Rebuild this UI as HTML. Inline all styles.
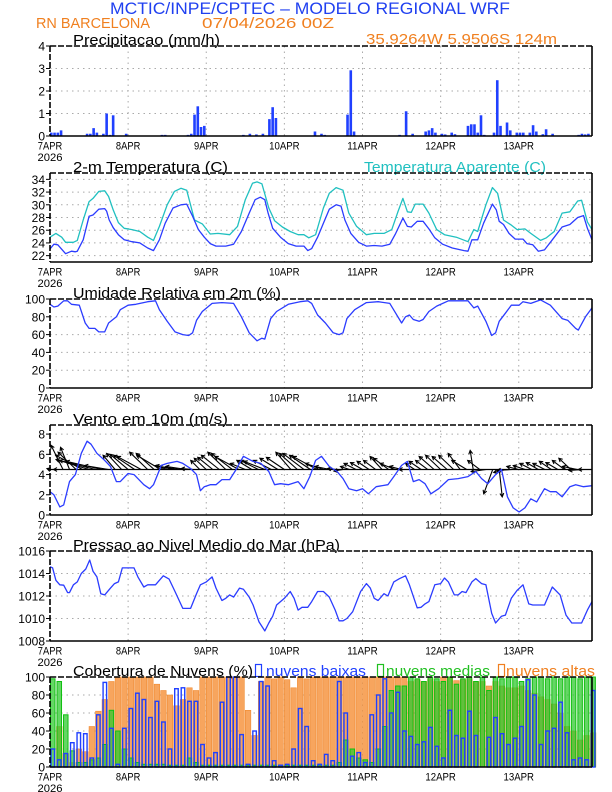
<!DOCTYPE html>
<html><head><meta charset="utf-8"><style>
html,body{margin:0;padding:0;background:#fff;}
svg{display:block;font-family:"Liberation Sans",sans-serif;}
</style></head><body>
<svg id="chart" width="612" height="792" viewBox="0 0 612 792" xmlns="http://www.w3.org/2000/svg">
<text x="110" y="14" font-size="17" fill="#2040f0" textLength="400" lengthAdjust="spacingAndGlyphs">MCTIC/INPE/CPTEC – MODELO REGIONAL WRF</text>
<text x="36" y="28" font-size="15" fill="#f08020" textLength="114" lengthAdjust="spacingAndGlyphs">RN BARCELONA</text>
<text x="202" y="28" font-size="15" fill="#f08020" textLength="132" lengthAdjust="spacingAndGlyphs">07/04/2026 00Z</text>
<text x="366" y="44" font-size="15" fill="#f08020" textLength="191" lengthAdjust="spacingAndGlyphs">35.9264W 5.9506S 124m</text>
<text x="73" y="45" font-size="15" fill="#000" textLength="147" lengthAdjust="spacingAndGlyphs">Precipitacao (mm/h)</text>
<text x="73" y="172" font-size="15" fill="#000" textLength="155" lengthAdjust="spacingAndGlyphs">2-m Temperatura (C)</text>
<text x="364" y="172" font-size="15" fill="#20c0c0" textLength="182" lengthAdjust="spacingAndGlyphs">Temperatura Aparente (C)</text>
<text x="73" y="298" font-size="15" fill="#000" textLength="208" lengthAdjust="spacingAndGlyphs">Umidade Relativa em 2m (%)</text>
<text x="73" y="424" font-size="15" fill="#000" textLength="155" lengthAdjust="spacingAndGlyphs">Vento em 10m (m/s)</text>
<text x="73" y="550" font-size="15" fill="#000" textLength="267" lengthAdjust="spacingAndGlyphs">Pressao ao Nivel Medio do Mar (hPa)</text>
<text x="73" y="676" font-size="15" fill="#000" textLength="180" lengthAdjust="spacingAndGlyphs">Cobertura de Nuvens (%)</text>
<rect x="255.5" y="664.5" width="6" height="12" fill="none" stroke="#2040ff" stroke-width="1.2"/>
<text x="266" y="676" font-size="15" fill="#2040ff" textLength="100" lengthAdjust="spacingAndGlyphs">nuvens baixas</text>
<rect x="377.5" y="664.5" width="6" height="12" fill="none" stroke="#20c020" stroke-width="1.2"/>
<text x="386" y="676" font-size="15" fill="#20c020" textLength="104" lengthAdjust="spacingAndGlyphs">nuvens medias</text>
<rect x="498.5" y="664.5" width="6" height="12" fill="none" stroke="#f08020" stroke-width="1.2"/>
<text x="506" y="676" font-size="15" fill="#f08020" textLength="89" lengthAdjust="spacingAndGlyphs">nuvens altas</text>
</svg>
<script>
// ---------- data ----------
const dayLabels=["7APR","8APR","9APR","10APR","11APR","12APR","13APR"];
const precipHours=[0,1,2,3,11,12,13,14,16,17,18,19,23,34,35,42,43,44,45,46,47,59,61,63,65,67,68,69,81,83,84,91,92,93,107,109,111,115,116,117,118,120,121,123,124,128,129,130,131,132,133,136,137,138,140,141,143,144,145,147,148,149,151,152,154,162,163,164,165];
const precipVals=[0.15,0.15,0.15,0.25,0.1,0.1,0.35,0.15,0.1,1.0,0.05,0.92,0.1,0.05,0.05,0.05,0.1,0.95,1.32,0.4,0.45,0.05,0.1,0.07,0.1,0.75,1.28,0.8,0.2,0.1,0.05,0.95,2.92,0.2,0.05,1.1,0.1,0.2,0.25,0.35,0.15,0.1,0.07,0.15,0.08,0.45,0.52,0.52,0.15,0.92,0.05,0.15,2.48,0.45,0.6,0.25,0.15,0.15,0.15,0.15,0.48,0.2,0.08,0.3,0.1,0.05,0.1,0.07,0.1];
const tempHours=[0,1.2,2.4,4.8,6.6,7.8,8.4,10.2,12,13.2,15,16.8,17.4,18.2,19.4,21,22.8,25.2,27.6,30,31.8,33.6,35.4,37.8,40.2,42,43.8,45.6,47.4,49.2,51,54,56.4,58.8,61.2,63,64.6,66,67,68.4,70.8,73.2,75.6,78,79.2,80.4,82.2,84,85.8,87.9,89.4,90.6,92.4,94.8,97.2,99.6,102,104.4,106.2,108.4,109.8,111,112.8,114.6,116.4,118.2,120.6,123.6,127.2,128.4,129.6,131.4,133.2,135.9,137.1,138,139.3,141,142.9,145.3,146.5,148.3,150,151.9,154.3,157.3,159.7,162.1,163.9,165.1,166.5];
const tempVals=[23.05,23.8,23.7,22.3,22.7,22.6,22.7,24.5,28.2,28.4,29.3,29.4,29.0,27.6,26.4,25.3,24.5,24.2,24.0,23.2,22.8,24.5,27.1,29.5,30.0,30.1,28.2,26.1,24.9,23.9,23.5,23.5,23.8,25.8,28.7,30.8,31.2,30.8,28.7,26.3,24.9,23.9,23.5,23.5,22.8,23.1,24.9,27.1,29.3,30.0,29.8,27.6,25.5,24.1,23.5,23.6,23.5,23.8,25.5,27.9,26.6,26.5,27.4,27.4,26.2,24.8,23.8,23.2,22.8,22.7,24.5,24.5,27.1,30.1,29.2,27.4,26.9,25.5,24.6,24.6,23.9,23.7,22.7,22.9,24.5,26.5,26.9,28.0,28.3,26.3,24.5];
const appHours=[0,1.8,3.6,4.8,7.2,8.4,10.2,12,13.2,15,16.8,18,19.4,21,22.8,25.2,27.6,30,31.8,33.6,36,38.2,40.2,42,44.4,46.8,49.2,51.6,55.2,57.6,60,62.2,63.6,65.1,67.2,69,71.4,73.8,76.2,78,79.5,81.6,84,85.8,87.9,90,91.8,94.2,97.2,99.6,102.6,105,106.8,108.4,109.8,111,112.2,114.6,116.4,118.8,121.2,124.8,128.4,130.2,131.4,133.9,135.9,137.5,139.3,141.7,143.5,145.9,147.7,150.7,152.5,154.9,157.3,159.7,162.1,163.3,165.1,166.5];
const appVals=[24.9,25.5,24.9,24.1,24.1,24.4,27.6,30.5,31.0,32.1,32.2,31.3,29.2,27.2,26.3,26.1,25.8,24.9,24.4,26.6,30.0,32.1,32.6,32.3,27.6,27.0,25.4,25.5,25.3,26.6,30.8,33.4,33.6,33.3,29.5,27.5,26.5,25.8,25.3,25.3,24.8,25.3,29.5,31.8,32.7,32.3,28.7,26.6,25.3,25.5,25.5,26.1,28.8,31.0,28.9,28.8,30.1,30.1,28.7,26.1,25.3,24.9,24.2,26.1,25.8,30.0,32.7,31.8,27.6,26.8,26.1,26.2,25.5,24.4,24.8,25.8,28.7,28.9,30.6,30.7,27.3,26.1];
const rhHours=[0,1.2,2.4,4.2,5.4,6.6,9,10.8,12,13.8,15,16.8,18,20.4,21.6,24,26.4,30,32.4,33.6,36,38.4,40.8,42.6,43.8,45,46.8,49.8,52.8,56.4,58.8,61.2,63.6,65.1,66,67.8,69.6,73.2,76.8,79.2,80.4,82.2,84.6,87,88.8,90,91.2,93.6,97.2,100.8,104.4,106.2,108,109.2,110.4,111.6,113.4,114.6,116.4,118.8,122.4,126,128.4,130.2,131.4,133.9,135.7,136.9,138,139.9,141.7,144.1,145.3,147.7,150.7,153.7,157.3,159.1,161.5,162.3,164.5,166.5];
const rhVals=[94,91,92,98,98,94,93,73,67,67,63,63,73,80,88,93,94,97,98,88,75,63,60,59,62,76,86,95,96,95,80,62,53,56,55,78,86,94,97,98,95,82,73,62,60,62,78,88,96,97,95,84,73,80,82,77,75,77,86,92,98,98,98,90,92,75,59,62,75,84,93,93,97,95,99,93,78,76,67,65,80,90];
const windHours=[0,1.2,3,4.2,6,7.8,9.6,11.4,12.6,14.4,16.8,18.6,20.4,21.6,24,25.8,28.8,30.6,31.8,34.2,36,39,40.8,43.2,45,46.2,47.4,49.2,51,52.8,55.2,57,59.4,62.4,64.8,67.2,69,70.8,73.2,76.2,78,79.8,81.6,83.4,85.8,88.2,90,91.8,94.2,96,97.8,100.2,103.8,105.6,108,109.8,111.6,113.4,115.2,117,119.4,122.4,125.4,128.4,130.8,132.6,134.5,136.9,138.7,140.5,142.3,144.1,145.9,147.7,149.5,151.9,153.7,155.5,157.3,159.7,161.5,163.9,166.5];
const windSpeed=[2.3,2.0,0.8,1.0,3.3,4.0,6.1,7.3,7.0,6.1,5.4,4.8,3.3,3.3,4.1,4.0,3.0,2.6,3.0,4.9,5.1,5.3,5.1,4.6,4.0,2.4,2.8,3.0,3.0,3.5,3.5,4.4,5.8,5.3,5.1,4.3,3.0,3.1,3.0,3.3,2.6,3.8,5.4,5.8,4.8,4.3,3.6,2.6,2.4,2.6,2.1,2.8,3.0,3.8,4.9,5.3,3.3,3.5,3.1,2.1,2.6,3.5,3.6,3.8,4.3,3.6,3.1,4.0,4.5,1.8,0.7,0.3,0.7,1.6,1.3,2.6,2.3,2.3,1.8,2.8,3.0,2.8,2.9];
const vecHours=[0,2,4,6,8,10,12,14,16,18,20,22,24,26,28,30,32,34,36,38,40,42,44,46,48,50,52,54,56,58,60,62,64,66,68,70,72,74,76,78,80,82,84,86,88,90,92,94,96,98,100,102,104,106,108,110,112,114,116,118,120,122,124,126,128,130,132,134,136,138,140,142,144,146,148,150,152,154,156,158,160,162,164,166];
const vecU=[-1,-1,-4,-3,-6,-9,-11,-12,-12,-8,-4,-5,-6,-7,-8,-6,-6,-8,-4,-6,-7,-7,-4,-3,-4,-5,-6,-6,-7,-8,-5,-5,-6,-7,-6,-6,-6,-5,-6,-7,-7,-8,-6,-5,-3,-3,-3,-4,-4,-4,-4,-4,-5,-5,-4,-3,-3,-4,-4,-5,-5,-5,-5,-4,-5,-1,-4,-5,-3,1,-4,-5,-4,-4,-4,-4,-4,-4,-4,-4,-4,-5,-5,-4];
const vecV=[0.3,0,8,7.3,5.7,4.7,3.3,3,2.7,1.3,4.7,5.3,5,4.7,4.3,5.7,5.3,4.7,1.3,1.3,1,1,0.3,3,3.7,4,4.7,5.7,5.3,4.3,2,3,3,2.7,3,3.7,4,5.7,5.3,5.3,4.7,4.3,2,1,0.3,-0.5,1,2,2.3,2.7,3,4.3,3.7,2,1,0,2,2.7,3,4.3,4.7,4.3,4.7,5.3,3,6.3,3,-0.7,-8,-9,-1,-0.3,1,1.3,2,2.3,2,2.7,2.3,3,3.7,1,-0.3,0];
const presHours=[0,0.8,1.8,3,4.2,5.4,6,7.2,8.4,9.6,11,12.2,13.2,14.4,15.6,16.8,18.6,19.8,21,22.2,24.6,25.8,27,28.8,30,32.4,34.8,36.6,38.4,40.8,43.2,45,46.2,48,49.8,51,52.8,54,55.2,56.4,58.2,59.4,61.2,62.4,64.2,66,67.2,68.4,69.6,72,73.8,75,76.2,77.4,79.2,80.4,82.2,84,85.8,87.6,88.8,90,91.2,93,95.4,97.2,98.4,99.6,100.8,102.6,103.8,105.6,107.4,109.2,110.4,112.8,114,115.2,116.4,118.2,120,121.2,122.4,124.2,125.4,126.6,127.8,129.6,130.8,132.6,133.9,135.7,136.9,138.7,139.9,141.7,143.5,145.3,147.1,148.3,150.7,151.9,154.3,156.7,158.5,160.3,163.3,165.1,166.5];
const presVals=[1014.6,1014.5,1013.4,1013.0,1012.96,1012.3,1012.3,1013.0,1013.25,1014.0,1014.4,1015.2,1014.2,1013.7,1012.2,1012.1,1012.7,1013.1,1013.25,1014.5,1014.5,1014.5,1013.7,1012.8,1013.0,1013.0,1013.8,1013.5,1012.4,1010.9,1010.9,1012.2,1013.0,1013.25,1013.7,1012.7,1011.6,1011.8,1012.1,1011.9,1012.7,1012.6,1011.9,1011.2,1009.7,1008.9,1009.6,1010.2,1011.2,1011.8,1012.4,1011.8,1010.75,1011.0,1011.0,1011.5,1012.4,1012.4,1011.9,1010.75,1009.8,1009.8,1010.0,1010.6,1012.4,1013.1,1012.7,1011.8,1011.6,1012.2,1012.0,1013.25,1013.55,1013.8,1013.0,1010.95,1011.0,1011.3,1011.5,1013.0,1013.1,1013.6,1013.25,1012.1,1012.1,1012.4,1012.3,1013.25,1013.55,1013.1,1013.0,1010.45,1009.6,1010.2,1010.3,1011.8,1012.5,1013.0,1011.3,1011.2,1011.2,1011.2,1012.8,1012.1,1010.3,1009.6,1009.6,1010.75,1011.5];
const cloudHours=[0,2,4,6,8,10,12,14,16,18,20,22,24,26,28,30,32,34,36,38,40,42,44,46,48,50,52,54,56,58,60,62,64,66,68,70,72,74,76,78,80,82,84,86,88,90,92,94,96,98,100,102,104,106,108,110,112,114,116,118,120,122,124,126,128,130,132,134,136,138,140,142,144,146,148,150,152,154,156,158,160,162,164,166];
const cloudHigh=[0,45,15,5,20,17,45,62,75,95,100,100,100,100,100,100,92,85,80,68,75,88,85,100,100,100,100,100,100,100,63,35,95,100,98,100,97,88,100,98,100,100,100,100,100,100,100,100,100,100,100,100,100,100,100,95,97,95,98,95,100,100,96,97,98,95,95,90,95,90,88,88,90,85,82,78,75,70,60,45,40,30,35,38];
const cloudMid=[98,95,58,18,5,5,8,10,25,63,40,20,10,5,3,3,3,3,2,2,2,10,5,2,2,2,2,2,2,2,2,2,2,2,2,2,2,2,2,2,2,2,2,2,5,30,20,10,8,5,20,45,85,90,90,100,98,95,100,98,95,100,92,98,100,95,100,85,100,98,100,100,95,98,100,100,98,100,98,100,100,98,100,100];
const cloudLow=[20,8,15,27,38,37,10,58,94,43,3,43,65,82,75,55,73,50,20,87,88,73,73,25,10,16,72,100,100,36,3,40,95,90,7,2,3,20,65,45,7,3,14,7,95,60,12,16,5,58,80,98,60,83,40,34,25,28,44,23,10,63,35,32,62,35,0,33,55,37,25,32,45,97,80,25,40,43,72,38,8,10,8,85];

// ---------- helpers ----------
const NS='http://www.w3.org/2000/svg';
const svg=document.getElementById('chart');
const X0=50,X1=592,HMAX=166.5;
function xs(h){return X0+h*(X1-X0)/HMAX;}
function mk(tag,attrs,parent){const e=document.createElementNS(NS,tag);for(const k in attrs)e.setAttribute(k,attrs[k]);(parent||svg).appendChild(e);return e;}
function yScale(p){return v=>p.bot-(v-p.min)*(p.bot-p.top)/(p.max-p.min);}

const panels=[
 {key:'precip',top:46,bot:136,min:0,max:4,ticks:[0,1,2,3,4]},
 {key:'temp',top:173,bot:262,min:21,max:35,ticks:[22,24,26,28,30,32,34]},
 {key:'humidity',top:299,bot:388,min:0,max:100,ticks:[0,20,40,60,80,100]},
 {key:'wind',top:425,bot:515,min:0,max:8.9,ticks:[0,2,4,6,8]},
 {key:'pressure',top:551,bot:641,min:1008,max:1016,ticks:[1008,1010,1012,1014,1016]},
 {key:'cloud',top:677,bot:767,min:0,max:100,ticks:[0,20,40,60,80,100]}
];

function drawAxes(p){
  const y=yScale(p);
  const g=mk('g',{});
  
  
  p.ticks.forEach(t=>{
    const gl=mk('line',{x1:X0,x2:X1,y1:y(t),y2:y(t),stroke:'#aaa','stroke-width':1,'stroke-dasharray':'1.5,4'},g);
    
    
    const tk=mk('line',{x1:X0-4,x2:X0,y1:y(t),y2:y(t),stroke:'#000','stroke-width':1},g);
    
    
    const lb=mk('text',{x:X0-5,y:y(t)+4.5,'font-size':12,'text-anchor':'end',fill:'#000'},g);
    lb.textContent=String(t);
    
    
  });
  dayLabels.forEach((d,i)=>{
    const xx=xs(i*24);
    if(i>0){
      const vl=mk('line',{x1:xx,x2:xx,y1:p.top,y2:p.bot,stroke:'#aaa','stroke-width':1,'stroke-dasharray':'1.5,4'},g);
      
      
    }
    const lb=mk('text',{x:xx,y:p.bot+13.5,'font-size':11,'text-anchor':'middle',fill:'#000',textLength:d.length*6.1,lengthAdjust:'spacingAndGlyphs'},g);
    lb.textContent=d;
    
    
  });
  const yr=mk('text',{x:X0,y:p.bot+25,'font-size':11,'text-anchor':'middle',fill:'#000',textLength:25,lengthAdjust:'spacingAndGlyphs'},g);
  yr.textContent='2026';
  
  
}
function drawFrame(p){
  const g=mk('g',{fill:'none',stroke:'#000','stroke-width':1.6});
  
  
  mk('line',{x1:X0,x2:X1,y1:p.top,y2:p.top,'stroke-dasharray':'6,2'},g);
  mk('line',{x1:X0,x2:X0,y1:p.top,y2:p.bot,'stroke-dasharray':'6,2'},g);
  mk('line',{x1:X1,x2:X1,y1:p.top,y2:p.bot},g);
  mk('line',{x1:X0,x2:X1,y1:p.bot,y2:p.bot},g);
}
function line(p,hours,vals,color,name){
  const y=yScale(p);
  const d=hours.map((h,i)=>(i?'L':'M')+xs(h).toFixed(1)+','+y(vals[i]).toFixed(1)).join('');
  const e=mk('path',{d:d,fill:'none',stroke:color,'stroke-width':1.3,'stroke-linejoin':'round'});
  
  
}

panels.forEach(drawAxes);
const P={};panels.forEach(p=>P[p.key]=p);

// precip bars
(function(){const p=P.precip,y=yScale(p);
 precipHours.forEach((h,i)=>{
  const b=mk('rect',{x:xs(h),y:y(precipVals[i]),width:2.6,height:y(0)-y(precipVals[i]),fill:'#2040ff'});
  
  
 });})();

// temperatures
line(P.temp,appHours,appVals,'#20c0c0','apparent-temp-line');
line(P.temp,tempHours,tempVals,'#2b3cff','temp-line');
// humidity
line(P.humidity,rhHours,rhVals,'#2b3cff','humidity-line');
// wind
(function(){const p=P.wind,y=yScale(p);const base=4.5;
 vecHours.forEach((h,i)=>{
  const x1=xs(h),y1=y(base);
  const x2=x1+vecU[i]*3,y2=y(base+vecV[i]*0.3);
  const a=Math.atan2(y2-y1,x2-x1);
  const L=4;
  const d='M'+x1+','+y1+'L'+x2+','+y2+
   'M'+(x2-L*Math.cos(a-0.5))+','+(y2-L*Math.sin(a-0.5))+'L'+x2+','+y2+'L'+(x2-L*Math.cos(a+0.5))+','+(y2-L*Math.sin(a+0.5));
  const e=mk('path',{d:d,fill:'none',stroke:'#000','stroke-width':1.1});
  
  
 });
 const bl=mk('line',{x1:xs(0),x2:xs(HMAX),y1:y(base),y2:y(base),stroke:'#000','stroke-width':1.2});
 
 
})();
line(P.wind,windHours,windSpeed,'#2b3cff','wind-speed-line');
// pressure
line(P.pressure,presHours,presVals,'#2b3cff','pressure-line');
// clouds
(function(){const p=P.cloud,y=yScale(p);const w=xs(2)-xs(0)-1;
 cloudHours.forEach((h,i)=>{
  const v=cloudHigh[i];
  const b=mk('rect',{x:xs(h),y:y(v),width:w,height:y(0)-y(v),fill:'#f7a55e',stroke:'#f08a30','stroke-width':0.6});
  
  
 });
 cloudHours.forEach((h,i)=>{
  const v=cloudMid[i];
  const b=mk('rect',{x:xs(h)+0.5,y:y(v),width:w-1,height:y(0)-y(v),fill:'rgba(50,200,50,0.75)',stroke:'#10c010','stroke-width':1});
  
  
 });
 cloudHours.forEach((h,i)=>{
  const v=cloudLow[i];
  const b=mk('rect',{x:xs(h)+1,y:y(v),width:w-2,height:y(0)-y(v),fill:'none',stroke:'#2040ff','stroke-width':1.4});
  
  
 });})();

panels.forEach(drawFrame);
</script>
</body></html>
